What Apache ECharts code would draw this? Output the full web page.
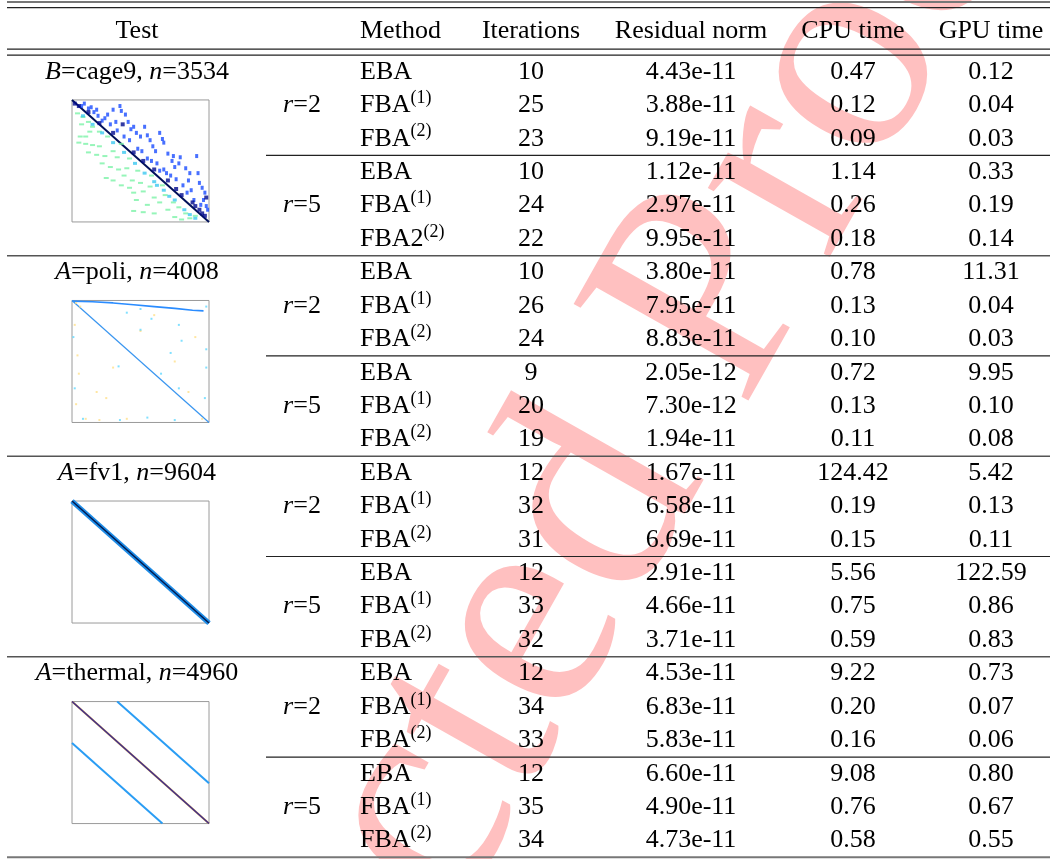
<!DOCTYPE html>
<html>
<head>
    <meta charset="utf-8">
    <title>EBA / FBA test table</title>
    <script src="https://cdn.jsdelivr.net/npm/echarts@6/dist/echarts.min.js"></script>
    <style>
        html, body { margin: 0; padding: 0; background: #fff; }
        #chart { width: 1050px; height: 859px; }
    </style>
</head>
<body>
<div id="chart"></div>
<script type="text/javascript">
    // ---- table data ----
    var testNames = ['cage9', 'poli', 'fv1', 'thermal'];
    var testLetters = ['B', 'A', 'A', 'A'];
    var testSizes = [3534, 4008, 9604, 4960];
    var rValues = [2, 5];
    var headers = ['Test', '', 'Method', 'Iterations', 'Residual norm', 'CPU time', 'GPU time'];

    var methods = ['EBA', 'FBA^(1)', 'FBA^(2)', 'EBA', 'FBA^(1)', 'FBA2^(2)',
        'EBA', 'FBA^(1)', 'FBA^(2)', 'EBA', 'FBA^(1)', 'FBA^(2)',
        'EBA', 'FBA^(1)', 'FBA^(2)', 'EBA', 'FBA^(1)', 'FBA^(2)',
        'EBA', 'FBA^(1)', 'FBA^(2)', 'EBA', 'FBA^(1)', 'FBA^(2)'];
    var iterations = [10, 25, 23, 10, 24, 22, 10, 26, 24, 9, 20, 19,
        12, 32, 31, 12, 33, 32, 12, 34, 33, 12, 35, 34];
    var residuals = [4.43e-11, 3.88e-11, 9.19e-11, 1.12e-11, 2.97e-11, 9.95e-11,
        3.80e-11, 7.95e-11, 8.83e-11, 2.05e-12, 7.30e-12, 1.94e-11,
        1.67e-11, 6.58e-11, 6.69e-11, 2.91e-11, 4.66e-11, 3.71e-11,
        4.53e-11, 6.83e-11, 5.83e-11, 6.60e-11, 4.90e-11, 4.73e-11];
    var cpuTimes = [0.47, 0.12, 0.09, 1.14, 0.26, 0.18, 0.78, 0.13, 0.10, 0.72, 0.13, 0.11,
        124.42, 0.19, 0.15, 5.56, 0.75, 0.59, 9.22, 0.20, 0.16, 9.08, 0.76, 0.58];
    var gpuTimes = [0.12, 0.04, 0.03, 0.33, 0.19, 0.14, 11.31, 0.04, 0.03, 9.95, 0.10, 0.08,
        5.42, 0.13, 0.11, 122.59, 0.86, 0.83, 0.73, 0.07, 0.06, 0.80, 0.67, 0.55];

    // ---- sparsity patterns (column, row as fraction of n) ----
    var diagonal = [[0, 0], [1, 1]];
    var cageNavy = [[0.02, 0.03], [0.05, 0.05], [0.12, 0.1], [0.2, 0.19], [0.3, 0.27], [0.37, 0.2],
        [0.45, 0.43], [0.52, 0.5], [0.6, 0.57], [0.7, 0.66], [0.8, 0.78], [0.88, 0.84],
        [0.93, 0.9], [0.97, 0.95], [0.98, 0.8], [0.9, 0.87], [0.95, 0.93], [0.76, 0.73]];
    var cageBlue = [[0.07, 0.05], [0.12, 0.07], [0.16, 0.1], [0.19, 0.13], [0.24, 0.15], [0.26, 0.12],
        [0.3, 0.08], [0.35, 0.05], [0.36, 0.09], [0.39, 0.12], [0.41, 0.18], [0.43, 0.24],
        [0.45, 0.22], [0.47, 0.27], [0.5, 0.3], [0.53, 0.22], [0.55, 0.29], [0.57, 0.33],
        [0.59, 0.38], [0.61, 0.42], [0.64, 0.27], [0.66, 0.32], [0.67, 0.35], [0.7, 0.44],
        [0.73, 0.5], [0.74, 0.46], [0.78, 0.52], [0.79, 0.47], [0.83, 0.56], [0.86, 0.6],
        [0.91, 0.46], [0.92, 0.6], [0.93, 0.68], [0.95, 0.72], [0.97, 0.76], [0.98, 0.87],
        [0.62, 0.52], [0.67, 0.57], [0.72, 0.62], [0.76, 0.65], [0.84, 0.76], [0.89, 0.82],
        [0.94, 0.86], [0.33, 0.25], [0.28, 0.2], [0.22, 0.17], [0.48, 0.4], [0.55, 0.48],
        [0.09, 0.03], [0.14, 0.06], [0.18, 0.08], [0.32, 0.18], [0.38, 0.3], [0.42, 0.33],
        [0.51, 0.42], [0.58, 0.5], [0.64, 0.58], [0.69, 0.6], [0.81, 0.7], [0.87, 0.74],
        [0.96, 0.82], [0.99, 0.9], [0.85, 0.66], [0.75, 0.55]];
    var cageCyan = [[0.08, 0.13], [0.15, 0.2], [0.22, 0.27], [0.3, 0.35], [0.38, 0.43], [0.46, 0.52],
        [0.53, 0.6], [0.6, 0.67], [0.67, 0.74], [0.75, 0.82], [0.82, 0.9], [0.9, 0.97],
        [0.62, 0.7], [0.71, 0.79], [0.86, 0.94]];
    var cageGreen = [[0.04, 0.11], [0.08, 0.14], [0.12, 0.18], [0.06, 0.3], [0.1, 0.3], [0.05, 0.35],
        [0.1, 0.36], [0.15, 0.37], [0.2, 0.38], [0.12, 0.43], [0.18, 0.45], [0.24, 0.46],
        [0.3, 0.42], [0.33, 0.47], [0.22, 0.52], [0.28, 0.55], [0.34, 0.57], [0.4, 0.56],
        [0.25, 0.64], [0.3, 0.66], [0.38, 0.62], [0.44, 0.66], [0.5, 0.68], [0.45, 0.76],
        [0.52, 0.75], [0.57, 0.71], [0.6, 0.8], [0.47, 0.82], [0.55, 0.86], [0.64, 0.84],
        [0.45, 0.91], [0.52, 0.92], [0.6, 0.93], [0.7, 0.9], [0.75, 0.96], [0.8, 0.98],
        [0.86, 0.97], [0.9, 0.95], [0.68, 0.78], [0.74, 0.84], [0.78, 0.88], [0.36, 0.36],
        [0.26, 0.3], [0.2, 0.26], [0.15, 0.22], [0.07, 0.2], [0.13, 0.26], [0.42, 0.48],
        [0.48, 0.58], [0.36, 0.7], [0.42, 0.72], [0.58, 0.62], [0.66, 0.7], [0.83, 0.93]];
    var poliBand = [[0, 0.005], [0.15, 0.01], [0.3, 0.02], [0.45, 0.035], [0.6, 0.05],
        [0.75, 0.065], [0.88, 0.08], [0.96, 0.085]];
    var poliYellow = [[0.03, 0.02], [0.06, 0.05], [0.02, 0.2], [0.04, 0.45], [0.05, 0.6], [0.03, 0.85],
        [0.1, 0.97], [0.2, 0.98], [0.4, 0.97], [0.3, 0.55], [0.18, 0.75], [0.25, 0.8],
        [0.5, 0.25], [0.6, 0.12], [0.75, 0.5], [0.9, 0.3], [0.85, 0.75], [0.95, 0.97]];
    var poliCyan = [[0.4, 0.1], [0.5, 0.07], [0.01, 0.3], [0.02, 0.72], [0.08, 0.97], [0.35, 0.98],
        [0.55, 0.96], [0.75, 0.98], [0.98, 0.05], [0.98, 0.4], [0.98, 0.55], [0.97, 0.8],
        [0.78, 0.2], [0.8, 0.33], [0.72, 0.43], [0.65, 0.6], [0.78, 0.72], [0.34, 0.54],
        [0.5, 0.24], [0.58, 0.15]];
    var thermalUpper = [[0.33, 0], [1, 0.67]];
    var thermalLower = [[0, 0.34], [0.66, 1]];

    // ---- layout ----
    var FONT = '"Liberation Serif", "Times New Roman", serif';
    var W = 1050, H = 859;
    var ROW_MIN = -1.65, ROW_MAX = 24.05;
    var pitch = H / (ROW_MAX - ROW_MIN);
    function rowToY(r) { return (r - ROW_MIN) * pitch; }
    var colX = [137, 302, 360, 531, 691, 853, 991];
    var colAlign = ['center', 'center', 'left', 'center', 'center', 'center', 'center'];

    var rich = {
        m: {fontFamily: FONT, fontSize: 26, lineHeight: 32, fill: '#000', color: '#000'},
        i: {fontFamily: FONT, fontSize: 26, lineHeight: 32, fontStyle: 'italic', fill: '#000', color: '#000'},
        s: {fontFamily: FONT, fontSize: 18, lineHeight: 16, verticalAlign: 'top', fill: '#000', color: '#000'}
    };

    function methodText(m) {
        var parts = m.split('^');
        return '{m|' + parts[0] + '}' + (parts[1] ? '{s|' + parts[1] + '}' : '');
    }

    // cells: text placed through the main grid's axes
    var cells = [];
    headers.forEach(function (h, c) {
        if (h) cells.push({x: colX[c], row: -0.72, text: '{m|' + h + '}', align: colAlign[c]});
    });
    testNames.forEach(function (name, t) {
        cells.push({x: colX[0], row: 6 * t + 0.5, align: 'center',
            text: '{i|' + testLetters[t] + '}{m|=' + name + ', }{i|n}{m|=' + testSizes[t] + '}'});
        rValues.forEach(function (r, k) {
            cells.push({x: colX[1], row: 6 * t + 3 * k + 1.5, align: 'center', text: '{i|r}{m|=' + r + '}'});
        });
    });
    methods.forEach(function (m, i) {
        var row = i + 0.5;
        cells.push({x: colX[2], row: row, align: 'left', text: methodText(m)});
        cells.push({x: colX[3], row: row, align: 'center', text: '{m|' + iterations[i] + '}'});
        cells.push({x: colX[4], row: row, align: 'center', text: '{m|' + residuals[i].toExponential(2) + '}'});
        cells.push({x: colX[5], row: row, align: 'center', text: '{m|' + cpuTimes[i].toFixed(2) + '}'});
        cells.push({x: colX[6], row: row, align: 'center', text: '{m|' + gpuTimes[i].toFixed(2) + '}'});
    });

    // horizontal rules: [x0, row, x1], with a style each
    var rules = [];
    function addRule(x0, row, x1, color, width) { rules.push({x0: x0, row: row, x1: x1, color: color, width: width}); }
    addRule(7, -1.59, W, '#777', 2);
    addRule(7, -1.42, W, '#222', 1.3);
    addRule(7, -0.18, W, '#222', 1.3);
    addRule(7, 0, W, '#222', 1.3);
    [6, 12, 18].forEach(function (r) { addRule(7, r, W, '#555', 1.4); });
    [3, 9, 15, 21].forEach(function (r) { addRule(266, r, W, '#222', 1.2); });
    addRule(7, 24, W, '#777', 2);

    // ---- watermark ----
    var WM_SIZE = 305, WM_ANGLE = 60.5 * Math.PI / 180;
    var pStart = [761, 420];
    var ux = Math.cos(WM_ANGLE), uy = -Math.sin(WM_ANGLE);
    var vx = -Math.sin(WM_ANGLE), vy = -Math.cos(WM_ANGLE);
    var mid = 0.33 * WM_SIZE;
    var wmFont = WM_SIZE + 'px ' + FONT;
    var wmColor = '#ffc0c0';

    var chart = echarts.init(document.getElementById('chart'));

    var grids = [{left: 0, top: 0, width: W, height: H, show: false}];
    var xAxes = [{gridIndex: 0, type: 'value', min: 0, max: W, show: false}];
    var yAxes = [{gridIndex: 0, type: 'value', min: ROW_MIN, max: ROW_MAX, inverse: true, show: false}];
    testNames.forEach(function (name, t) {
        grids.push({left: 72, top: rowToY(6 * t + 1.34), width: 137, height: 122,
            show: true, borderColor: '#9a9a9a', borderWidth: 1, backgroundColor: '#fff'});
        xAxes.push({gridIndex: t + 1, type: 'value', min: 0, max: 1, show: false});
        yAxes.push({gridIndex: t + 1, type: 'value', min: 0, max: 1, inverse: true, show: false});
    });

    function lineSeries(g, data, color, width) {
        return {type: 'line', xAxisIndex: g, yAxisIndex: g, data: data, showSymbol: false, silent: true,
            lineStyle: {color: color, width: width}, z: 5};
    }
    function dotSeries(g, data, color, size) {
        return {type: 'scatter', xAxisIndex: g, yAxisIndex: g, data: data, symbol: 'rect', symbolSize: size,
            silent: true, itemStyle: {color: color}, z: 5};
    }

    var series = [
        {
            name: 'rules',
            type: 'custom',
            xAxisIndex: 0, yAxisIndex: 0,
            silent: true, z: 3,
            data: rules.map(function (r) { return [r.x0, r.row, r.x1]; }),
            renderItem: function (params, api) {
                var r = rules[params.dataIndex];
                var a = api.coord([api.value(0), api.value(1)]);
                var b = api.coord([api.value(2), api.value(1)]);
                return {type: 'line', shape: {x1: a[0], y1: a[1], x2: b[0], y2: b[1]},
                    style: {stroke: r.color, lineWidth: r.width}};
            }
        },
        {
            name: 'cells',
            type: 'custom',
            xAxisIndex: 0, yAxisIndex: 0,
            silent: true, z: 4,
            data: cells.map(function (c) { return [c.x, c.row]; }),
            renderItem: function (params, api) {
                var c = cells[params.dataIndex];
                var p = api.coord([api.value(0), api.value(1)]);
                return {type: 'text', x: p[0], y: p[1],
                    style: {text: c.text, rich: rich, align: c.align, verticalAlign: 'middle',
                        fontFamily: FONT, fontSize: 26, fill: '#000'}};
            }
        },
        // cage9
        dotSeries(1, cageGreen, '#7cf2a8', [5, 2]),
        dotSeries(1, cageCyan, '#3cc8f0', [4, 3]),
        dotSeries(1, cageBlue, '#1a4cff', [3, 4]),
        lineSeries(1, diagonal, '#00105a', 2),
        dotSeries(1, cageNavy, '#000a8c', [4, 4]),
        // poli
        dotSeries(2, poliYellow, '#ffe08a', 2),
        dotSeries(2, poliCyan, '#62d8ff', 2),
        lineSeries(2, poliBand, '#2a8cff', 1.6),
        lineSeries(2, diagonal, '#3a96f0', 1.2),
        // fv1
        lineSeries(3, diagonal, '#1e8ce6', 5),
        lineSeries(3, diagonal, '#001a50', 1.5),
        // thermal
        lineSeries(4, thermalUpper, '#2a9df4', 2),
        lineSeries(4, thermalLower, '#2a9df4', 2),
        lineSeries(4, diagonal, '#c09050', 2),
        lineSeries(4, diagonal, '#3a2a90', 1.2)
    ];

    chart.setOption({
        animation: false,
        backgroundColor: '#fff',
        grid: grids,
        xAxis: xAxes,
        yAxis: yAxes,
        graphic: [
            {
                type: 'text', z: 0, silent: true,
                x: pStart[0] + mid * vx, y: pStart[1] + mid * vy, rotation: WM_ANGLE,
                style: {text: 'Proof', font: wmFont, fill: wmColor, align: 'left', verticalAlign: 'middle'}
            },
            {
                type: 'text', z: 0, silent: true,
                x: pStart[0] - 0.25 * WM_SIZE * ux + mid * vx, y: pStart[1] - 0.25 * WM_SIZE * uy + mid * vy,
                rotation: WM_ANGLE,
                style: {text: 'Uncorrected', font: wmFont, fill: wmColor, align: 'right', verticalAlign: 'middle'}
            }
        ],
        series: series
    });
</script>
</body>
</html>
